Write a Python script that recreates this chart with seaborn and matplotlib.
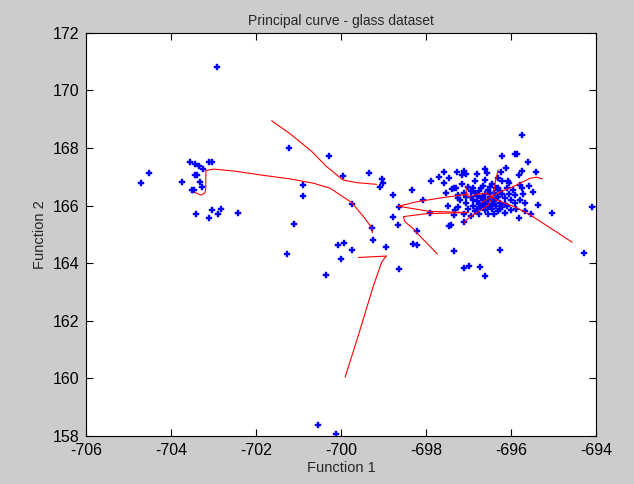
import matplotlib
matplotlib.use("Agg")
import matplotlib.pyplot as plt
import seaborn as sns
import pandas as pd

# Discriminant function scores of the glass samples
func1 = [
    # left group
    -704.71, -704.52, -703.73, -703.55, -703.43, -703.35, -703.25, -703.11, -703.03,
    -703.43, -703.38, -703.31, -703.26, -703.51, -703.45, -703.40, -703.03, -702.82,
    -703.10, -702.89, -702.42, -702.92,
    # middle scatter
    -701.22, -700.27, -699.96, -700.89, -700.89, -699.73, -701.10, -701.26, -700.06,
    -699.92, -699.73, -699.99, -700.36, -700.55, -700.12, -699.35, -699.03, -699.00,
    -699.07, -699.26, -699.24, -698.93, -698.64, -698.78, -698.34, -698.08, -697.89,
    -697.69, -697.58, -697.57, -697.27, -697.11, -697.06, -697.15, -697.38, -697.52,
    -697.25, -697.24, -697.48, -698.63, -697.91, -698.78, -698.66, -698.22, -698.31,
    -698.20, -697.33, -696.26, -697.10, -696.98, -696.73, -696.61, -697.45, -697.42,
    -697.10, -697.33, -697.31,
    # right group outskirts
    -695.73, -696.20, -695.91, -695.86, -695.59, -696.12, -695.40, -695.75, -695.80,
    -696.61, -696.56, -696.24, -696.80, -696.07, -695.79, -695.57, -695.75, -695.49,
    -695.71, -695.91, -695.78, -695.66, -695.89, -695.36, -695.03, -695.54, -695.68,
    -695.82, -694.10, -694.28, -697.45, -697.35,
    # right group core
    -697.20, -697.10, -697.05, -697.00, -696.95, -696.90, -696.90, -696.85, -696.80,
    -696.80, -696.75, -696.70, -696.70, -696.65, -696.65, -696.60, -696.60, -696.55,
    -696.55, -696.50, -696.50, -696.45, -696.45, -696.40, -696.40, -696.35, -696.35,
    -696.30, -696.30, -696.25, -696.25, -696.20, -696.20, -696.15, -696.10, -696.10,
    -696.05, -696.00, -696.00, -695.95, -697.30, -697.25, -697.15, -697.10, -697.00,
    -696.95, -696.85, -696.75, -696.60, -696.55, -696.40, -696.30, -696.15, -696.05,
    -695.90, -696.85, -696.70, -696.60, -696.50, -696.45, -696.35, -696.30, -696.20,
    -696.15, -696.65, -696.75, -696.95, -697.05, -696.90, -696.55, -696.40, -696.25,
    -696.80, -696.50, -696.60,
]
func2 = [
    # left group
    166.78, 167.13, 166.81, 167.53, 167.44, 167.39, 167.28, 167.53, 167.53,
    167.06, 167.06, 166.81, 166.64, 166.54, 166.54, 165.71, 165.84, 165.89,
    165.57, 165.71, 165.75, 170.80,
    # middle scatter
    168.02, 167.74, 167.04, 166.71, 166.33, 166.06, 165.37, 164.33, 164.64,
    164.72, 164.47, 164.16, 163.58, 158.38, 158.08, 167.13, 166.94, 166.78,
    166.66, 165.23, 164.81, 164.58, 163.81, 166.36, 166.53, 166.19, 166.85,
    167.01, 167.16, 166.78, 167.16, 167.22, 167.11, 167.06, 166.59, 166.43,
    166.37, 166.28, 166.00, 165.95, 165.74, 165.60, 165.33, 165.12, 164.67,
    164.64, 164.44, 164.47, 163.83, 163.92, 163.86, 163.55, 165.30, 165.32,
    165.44, 165.68, 165.85,
    # right group outskirts
    168.46, 167.73, 167.79, 167.79, 167.50, 167.32, 167.16, 167.20, 167.06,
    167.29, 167.15, 167.16, 167.09, 166.84, 166.72, 166.70, 166.63, 166.47,
    166.42, 166.38, 166.18, 166.09, 165.89, 166.02, 165.74, 165.71, 165.82,
    165.57, 165.96, 164.37, 166.95, 166.60,
    # right group core
    166.20, 166.45, 166.10, 165.90, 166.30, 166.60, 166.00, 165.80, 166.35,
    166.15, 166.50, 165.95, 166.25, 166.70, 166.10, 166.40, 165.85, 166.20,
    166.55, 166.00, 166.30, 166.75, 165.90, 166.15, 166.45, 166.60, 166.00,
    166.30, 165.80, 166.10, 166.50, 166.85, 165.95, 166.25, 166.60, 166.00,
    166.40, 165.85, 166.20, 166.55, 166.60, 165.95, 166.75, 165.70, 166.65,
    165.65, 166.85, 165.70, 166.90, 165.70, 165.70, 166.95, 165.75, 166.80,
    166.10, 166.45, 166.60, 166.05, 166.65, 166.20, 166.25, 166.60, 166.40,
    166.05, 166.30, 166.05, 166.50, 166.30, 166.20, 165.95, 166.05, 165.90,
    165.90, 166.45, 166.15,
]

# Principal curve segments (vertices in score space)
seg_x = {
    "a": [-701.63, -701.20, -700.70, -700.34, -699.95, -699.63, -699.16],
    "b": [-703.44, -703.35, -703.28, -703.20, -703.18, -703.18, -703.18, -703.00,
          -702.50, -701.91, -701.20, -700.65, -700.26, -699.75, -699.47, -699.28,
          -699.26],
    "c": [-699.59, -698.93, -699.04, -699.24, -699.59, -699.90],
    "d": [-697.00, -697.60, -698.20, -698.65, -697.91, -697.40, -697.00],
    "e": [-697.00, -698.00, -698.53, -698.50, -698.30, -698.14, -697.73],
    "f": [-696.60, -696.34, -695.90, -695.55, -695.10, -694.56],
    "g": [-696.70, -696.30, -695.95, -695.55, -695.40, -695.26],
    "h": [-696.30, -696.36, -696.42, -696.55, -696.75, -696.96],
    "i": [-697.06, -697.04, -697.00, -696.80, -696.60],
    "j": [-696.96, -697.05, -697.10],
}
seg_y = {
    "a": [168.95, 168.50, 167.90, 167.36, 166.89, 166.80, 166.74],
    "b": [166.47, 166.40, 166.37, 166.45, 166.60, 167.00, 167.22, 167.27,
          167.20, 167.07, 166.93, 166.78, 166.61, 166.11, 165.62, 165.24,
          165.06],
    "c": [164.20, 164.25, 164.05, 163.20, 161.50, 160.05],
    "d": [166.40, 166.28, 166.14, 165.98, 165.80, 165.78, 165.76],
    "e": [165.76, 165.72, 165.62, 165.45, 165.20, 164.94, 164.32],
    "f": [166.45, 166.20, 165.95, 165.68, 165.25, 164.73],
    "g": [166.10, 166.45, 166.66, 166.95, 166.99, 166.93],
    "h": [167.24, 166.90, 166.32, 166.00, 165.80, 165.62],
    "i": [166.65, 166.35, 166.30, 166.40, 166.42],
    "j": [165.62, 165.50, 165.40],
}

xticks = [-706, -704, -702, -700, -698, -696, -694]
yticks = [158, 160, 162, 164, 166, 168, 170, 172]

sns.set_style("ticks")
plt.rcParams["font.family"] = ["Liberation Sans", "DejaVu Sans"]

fig = plt.figure(figsize=(6.34, 4.84), dpi=100, facecolor="#cccccc")
ax = fig.add_axes([0.1356, 0.0992, 0.8044, 0.8328])
ax.set_facecolor("white")

pts = pd.DataFrame({"f1": func1, "f2": func2})
sns.scatterplot(data=pts, x="f1", y="f2", ax=ax, marker="P", s=16,
                color="#0000ff", edgecolor="#0000ff", linewidth=0.3, zorder=2)

for key in seg_x:
    seg = pd.DataFrame({"x": seg_x[key], "y": seg_y[key]})
    sns.lineplot(data=seg, x="x", y="y", ax=ax, sort=False, estimator=None,
                 color="#ff0000", linewidth=0.8, zorder=3)

ax.set_xlim(-706, -694)
ax.set_ylim(158, 172)
ax.set_xticks(xticks)
ax.set_yticks(yticks)
ax.set_xticklabels([str(v) for v in xticks])
ax.set_yticklabels([str(v) for v in yticks])
ax.tick_params(direction="in", length=5, width=0.8, labelsize=11.5,
               top=True, right=True, colors="black")
ax.tick_params(axis="x", pad=5)
ax.tick_params(axis="y", pad=5)
for sp in ax.spines.values():
    sp.set_visible(True)
    sp.set_color("black")
    sp.set_linewidth(0.8)

ax.set_title("Principal curve - glass dataset", fontsize=10, pad=6)
ax.set_xlabel("Function 1", fontsize=10.5, labelpad=2)
ax.set_ylabel("Function 2", fontsize=10.5, labelpad=4)

fig.savefig("out.png", dpi=100, facecolor=fig.get_facecolor())
